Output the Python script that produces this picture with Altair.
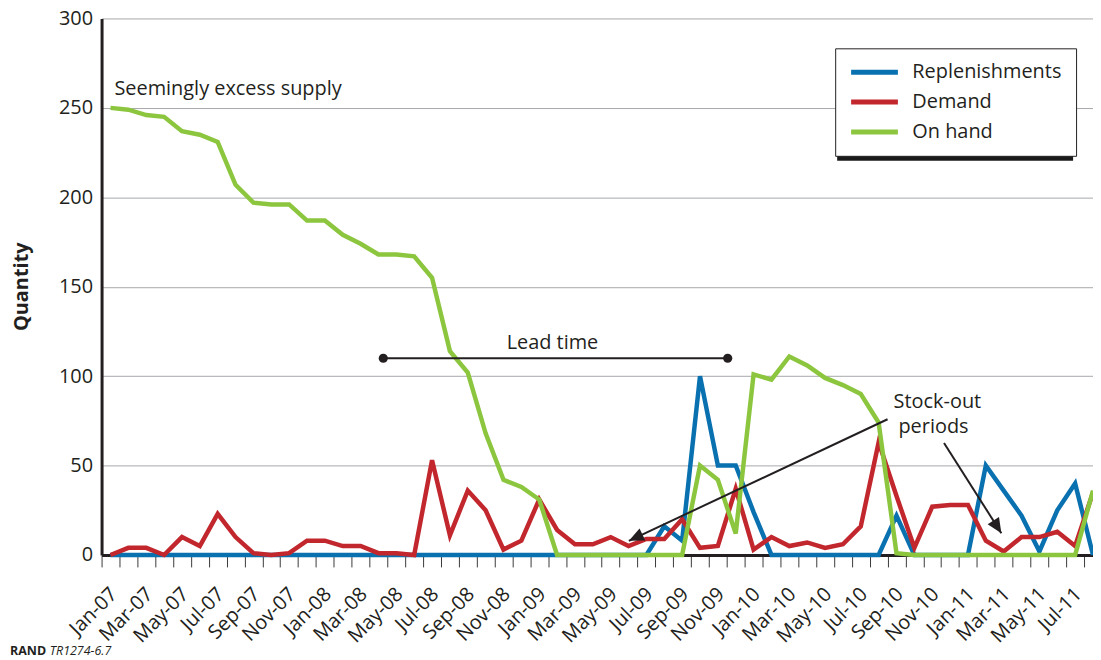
import math
import altair as alt
import pandas as pd

# ---------------- data ----------------
months = [
    "Jan-07", "Feb-07", "Mar-07", "Apr-07", "May-07", "Jun-07", "Jul-07", "Aug-07", "Sep-07", "Oct-07", "Nov-07", "Dec-07",
    "Jan-08", "Feb-08", "Mar-08", "Apr-08", "May-08", "Jun-08", "Jul-08", "Aug-08", "Sep-08", "Oct-08", "Nov-08", "Dec-08",
    "Jan-09", "Feb-09", "Mar-09", "Apr-09", "May-09", "Jun-09", "Jul-09", "Aug-09", "Sep-09", "Oct-09", "Nov-09", "Dec-09",
    "Jan-10", "Feb-10", "Mar-10", "Apr-10", "May-10", "Jun-10", "Jul-10", "Aug-10", "Sep-10", "Oct-10", "Nov-10", "Dec-10",
    "Jan-11", "Feb-11", "Mar-11", "Apr-11", "May-11", "Jun-11", "Jul-11", "Aug-11",
]

replenishments = [
    0, 0, 0, 0, 0, 0, 0, 0, 0, 0,
    0, 0, 0, 0, 0, 0, 0, 0, 0, 0,
    0, 0, 0, 0, 0, 0, 0, 0, 0, 0,
    0, 16, 8, 100, 50, 50, 24, 0, 0, 0,
    0, 0, 0, 0, 22, 0, 0, 0, 0, 50,
    36, 22, 2, 25, 40, 0,
]

demand = [
    0, 4, 4, 0, 10, 5, 23, 10, 1, 0,
    1, 8, 8, 5, 5, 1, 1, 0, 53, 11,
    36, 25, 3, 8, 31, 14, 6, 6, 10, 5,
    9, 9, 20, 4, 5, 37, 3, 10, 5, 7,
    4, 6, 16, 63, 33, 4, 27, 28, 28, 8,
    2, 10, 10, 13, 5, 35,
]

on_hand = [
    250, 249, 246, 245, 237, 235, 231, 207, 197, 196,
    196, 187, 187, 179, 174, 168, 168, 167, 155, 114,
    102, 68, 42, 38, 31, 0, 0, 0, 0, 0,
    0, 0, 0, 50, 42, 12, 101, 98, 111, 106,
    99, 95, 90, 74, 1, 0, 0, 0, 0, 0,
    0, 0, 0, 0, 0, 36,
]

series_names = ["Replenishments", "Demand", "On hand"]
y_ticks = [0, 50, 100, 150, 200, 250, 300]

# annotations (month index, quantity)
note_text = ["Seemingly excess supply", "Lead time", "Stock-out", "periods"]
note_i = [0.22, 24.74, 46.29, 46.07]
note_v = [257.0, 115.4, 82.2, 68.2]

lead_i = [15.27, 34.55]
lead_v = [110.0, 110.0]

arrow_start_i = [43.5, 46.66]
arrow_start_v = [75.9, 62.6]
arrow_tip_i = [29.02, 49.87]
arrow_tip_v = [7.9, 12.2]

footer_bold = "RAND"
footer_italic = "TR1274-6.7"

# ---------------- styling ----------------
W, H = 996, 539
FONT = "Open Sans"
INK = "#231f20"
COLORS = ["#0a71b0", "#c1272d", "#8cc63f"]
GRID = "#a6a8ab"
X_DOMAIN = [-0.5, len(months) - 1]

n = len(months)
df = pd.DataFrame({
    "i": list(range(n)) * 3,
    "month": months * 3,
    "series": [s for s in series_names for _ in range(n)],
    "value": replenishments + demand + on_hand,
})

x_scale = alt.Scale(domain=X_DOMAIN, nice=False, zero=False)
y_scale = alt.Scale(domain=[0, 300], nice=False, zero=True)

tick_vals = [k - 0.5 for k in range(n)]
label_js = "[" + ",".join("'%s'" % m for m in months) + "]"
label_expr = (
    "(round(datum.value + 0.5) % 2 == 0) ? "
    + label_js + "[round(datum.value + 0.5)] : ''"
)

x_axis = alt.Axis(
    values=tick_vals, title=None, grid=False, labelExpr=label_expr,
    labelAngle=-45, labelAlign="right", labelBaseline="middle",
    labelOffset=12, labelPadding=24, labelFont=FONT, labelFontSize=20,
    labelColor=INK, labelOverlap=False, labelFlush=False,
    tickSize=12, tickColor="#3a3a3a", tickWidth=1,
    domainColor=INK, domainWidth=3,
)
y_axis = alt.Axis(
    values=y_ticks, title="Quantity", grid=True, gridColor=GRID, gridWidth=1,
    ticks=False, domainColor=INK, domainWidth=3, labelPadding=9,
    labelFont=FONT, labelFontSize=20, labelColor=INK,
    titleFont=FONT, titleFontSize=20, titleFontWeight="bold", titleColor=INK,
    titleX=-80, titleY=269, titleAngle=270, titleAlign="center", titleBaseline="middle",
)


def X(field):
    return alt.X(f"{field}:Q", scale=x_scale, axis=x_axis)


def Y(field):
    return alt.Y(f"{field}:Q", scale=y_scale, axis=y_axis)


legend = alt.Legend(
    title=None, orient="none", legendX=737, legendY=30,
    symbolType="M-4.7,0H4.7", symbolSize=100, symbolStrokeWidth=5,
    symbolOffset=15.5, labelOffset=28, labelFont=FONT, labelFontSize=20,
    labelColor=INK, labelLimit=400, rowPadding=10, padding=14,
    strokeColor=INK, fillColor="white", cornerRadius=0,
)
color = alt.Color("series:N", scale=alt.Scale(domain=series_names, range=COLORS), legend=legend)

shadow = alt.Chart(alt.Data(values=[{"k": 0}])).mark_rect(color="#1a1a1a").encode(
    x=alt.value(739), x2=alt.value(976), y=alt.value(35), y2=alt.value(143)
)

lines = [
    alt.Chart(df).transform_filter(alt.datum.series == s)
    .mark_line(strokeWidth=4.5)
    .encode(x=X("i"), y=Y("value"), color=color)
    for s in series_names
]

lead_df = pd.DataFrame({"i": [lead_i[0]], "i2": [lead_i[1]], "v": [lead_v[0]]})
lead_rule = alt.Chart(lead_df).mark_rule(color=INK, strokeWidth=2.2).encode(
    x=X("i"), x2="i2:Q", y=Y("v")
)
lead_dots = alt.Chart(pd.DataFrame({"i": lead_i, "v": lead_v})).mark_point(
    filled=True, shape="circle", size=85, color=INK, opacity=1
).encode(x=X("i"), y=Y("v"))

arrows_df = pd.DataFrame({"i": arrow_start_i, "v": arrow_start_v, "i2": arrow_tip_i, "v2": arrow_tip_v})
arrow_lines = alt.Chart(arrows_df).mark_rule(color=INK, strokeWidth=2).encode(
    x=X("i"), y=Y("v"), x2="i2:Q", y2="v2:Q"
)
px_i = W / (X_DOMAIN[1] - X_DOMAIN[0])
px_v = H / 300.0
angles = [
    math.degrees(math.atan2((ti - si) * px_i, (tv - sv) * px_v)) % 360
    for si, sv, ti, tv in zip(arrow_start_i, arrow_start_v, arrow_tip_i, arrow_tip_v)
]
heads_df = pd.DataFrame({"i": arrow_tip_i, "v": arrow_tip_v, "ang": angles})
heads = alt.Chart(heads_df).mark_point(
    shape="M0,0L-0.45,1L0.45,1Z", size=900, filled=True, color=INK, opacity=1, strokeWidth=0
).encode(x=X("i"), y=Y("v"), angle=alt.Angle("ang:Q", scale=None))

notes_df = pd.DataFrame({"k": list(range(len(note_text))), "t": note_text, "i": note_i, "v": note_v})
notes_left = alt.Chart(notes_df).transform_filter(alt.datum.k == 0).mark_text(
    align="left", baseline="alphabetic", font=FONT, fontSize=20, color=INK
).encode(x=X("i"), y=Y("v"), text="t:N")
notes_center = alt.Chart(notes_df).transform_filter(alt.datum.k > 0).mark_text(
    align="center", baseline="alphabetic", font=FONT, fontSize=20, color=INK
).encode(x=X("i"), y=Y("v"), text="t:N")

foot1 = alt.Chart(alt.Data(values=[{"t": footer_bold}])).mark_text(
    align="left", baseline="alphabetic", font=FONT, fontSize=12.5, fontWeight="bold", color=INK
).encode(x=alt.value(-92), y=alt.value(639), text="t:N")
foot2 = alt.Chart(alt.Data(values=[{"t": footer_italic}])).mark_text(
    align="left", baseline="alphabetic", font=FONT, fontSize=12.5, fontStyle="italic", color=INK
).encode(x=alt.value(-52), y=alt.value(639), text="t:N")

chart = alt.layer(
    shadow, *lines, lead_rule, lead_dots, arrow_lines, heads, notes_left, notes_center, foot1, foot2
).properties(
    width=W, height=H,
    autosize=alt.AutoSizeParams(type="none"),
    padding={"left": 94, "top": 9, "right": 0, "bottom": 104},
    background="white",
).configure_view(stroke="transparent")

chart.save("out.html", embed_options={"renderer": "svg", "actions": False})
